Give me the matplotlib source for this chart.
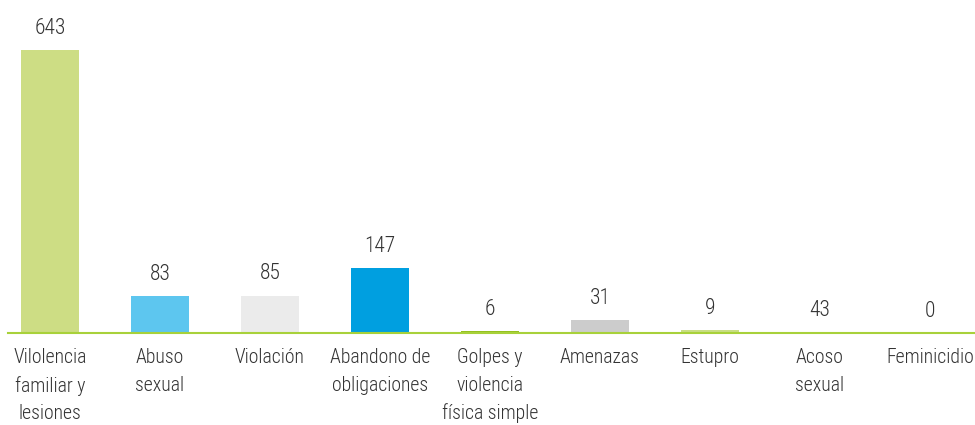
import matplotlib
matplotlib.use('Agg')
import matplotlib.pyplot as plt
from matplotlib import font_manager

categories = ['Vilolencia\nfamiliar y\nlesiones', 'Abuso\nsexual', 'Violación',
              'Abandono de\nobligaciones', 'Golpes y\nviolencia\nfísica simple',
              'Amenazas', 'Estupro', 'Acoso\nsexual', 'Feminicidio']
labels = [643, 83, 85, 147, 6, 31, 9, 43, 0]
# alturas (las barras pequeñas no son proporcionales a la etiqueta)
heights = [643, 83, 85, 147, 5, 29, 7, 3, 0]
colors = ['#cddd84', '#5dc6ef', '#ebebeb', '#009fe0', '#95c11f',
          '#cccccc', '#c9de85', '#72c2a4', '#ffffff']

available = {f.name for f in font_manager.fontManager.ttflist}
family = 'DejaVu Sans'
for name in ['Roboto Condensed', 'Liberation Sans Narrow', 'DejaVu Sans Condensed']:
    if name in available:
        family = name
        break
plt.rcParams['font.family'] = family

fig = plt.figure(figsize=(9.75, 4.25), dpi=100)
ax = fig.add_axes([8 / 975, 92 / 425, 967 / 975, 333 / 425])

x = range(len(categories))
ax.bar(x, heights, width=0.53, color=colors)
ax.set_xlim(-42 / 110, 8.41)
ax.set_ylim(0, 643 * 333 / 283)

for i, (h, lab) in enumerate(zip(heights, labels)):
    ax.annotate(str(lab), (i, h), xytext=(0, 8), textcoords='offset points',
                ha='center', va='bottom', fontsize=15.5, color='#333333',
                fontweight='light')
    ax.annotate(categories[i], (i, 0), xytext=(0, -11), textcoords='offset points',
                ha='center', va='top', fontsize=14.2, color='#333333',
                fontweight='light', linespacing=1.55)

for s in ['top', 'right', 'left']:
    ax.spines[s].set_visible(False)
ax.spines['bottom'].set_color('#a8d13a')
ax.spines['bottom'].set_linewidth(1.5)
ax.set_xticks([])
ax.set_yticks([])

fig.savefig('out.png', dpi=100)
